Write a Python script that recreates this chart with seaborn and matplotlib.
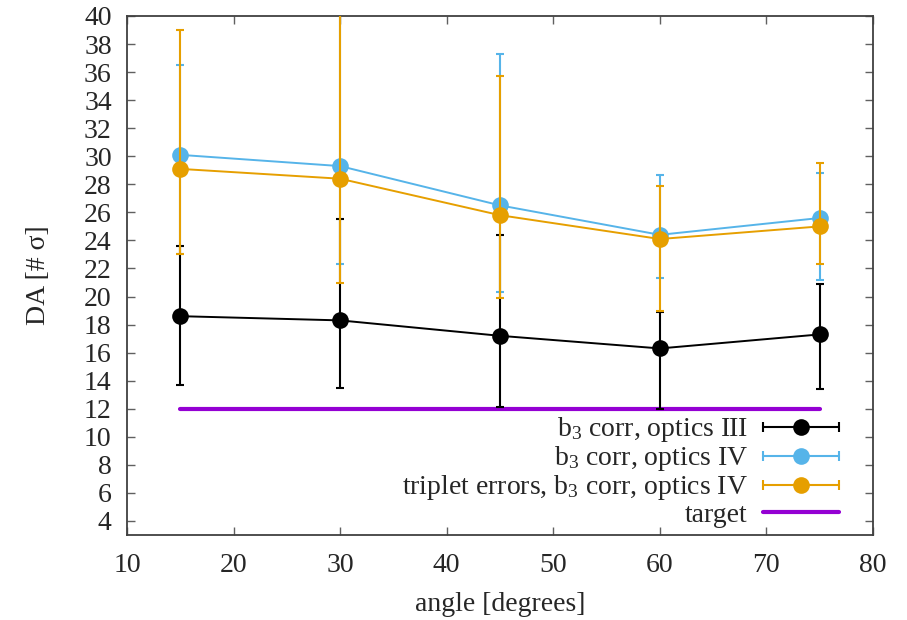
import numpy as np
import pandas as pd
import matplotlib
matplotlib.use("Agg")
import matplotlib.pyplot as plt
import seaborn as sns
from matplotlib.lines import Line2D
from matplotlib.legend_handler import HandlerLine2D, HandlerTuple

# ---- data ----
angles = [15, 30, 45, 60, 75]

da_opt3 = [18.6, 18.3, 17.2, 16.3, 17.3]
da_opt3_lo = [13.7, 13.5, 12.1, 12.0, 13.4]
da_opt3_hi = [23.6, 25.5, 24.4, 18.9, 20.9]

da_opt4 = [30.1, 29.3, 26.5, 24.4, 25.6]
da_opt4_lo = [23.0, 22.3, 20.3, 21.3, 21.2]
da_opt4_hi = [36.5, 42.0, 37.3, 28.7, 28.8]

da_trip = [29.1, 28.4, 25.8, 24.1, 25.0]
da_trip_lo = [23.0, 21.0, 19.9, 19.0, 22.3]
da_trip_hi = [39.0, 45.0, 35.7, 27.9, 29.5]

target_x = [15, 75]
target_y = [12, 12]

series_labels = ["b$_3$ corr, optics III",
                 "b$_3$ corr, optics IV",
                 "triplet errors, b$_3$ corr, optics IV"]
target_label = "target"

x_ticks = list(range(10, 81, 10))
y_ticks = list(range(4, 41, 2))

colors = ["#000000", "#56B4E9", "#E69F00"]
target_color = "#9400D3"

FS = 20

# ---- style ----
sns.set_style("ticks")
plt.rcParams["font.family"] = ["Liberation Serif", "DejaVu Serif"]
plt.rcParams["mathtext.fontset"] = "custom"
plt.rcParams["mathtext.rm"] = "Liberation Serif"
plt.rcParams["mathtext.it"] = "Liberation Serif:italic"

fig = plt.figure(figsize=(9.07, 6.2), dpi=100)
ax = fig.add_axes([127 / 907, 1 - 535 / 620, (873 - 127) / 907, (535 - 16) / 620])

series = [
    (da_opt3, da_opt3_lo, da_opt3_hi),
    (da_opt4, da_opt4_lo, da_opt4_hi),
    (da_trip, da_trip_lo, da_trip_hi),
]

for i, ((y, lo, hi), col, lab) in enumerate(zip(series, colors, series_labels)):
    y = np.array(y)
    yerr = np.vstack([y - np.array(lo), np.array(hi) - y])
    z = 3 + i
    ax.errorbar(angles, y, yerr=yerr, fmt="none", ecolor=col, elinewidth=1.5,
                capsize=3, capthick=1.5, zorder=z)
    df = pd.DataFrame({"angle": angles, "DA": y})
    sns.lineplot(data=df, x="angle", y="DA", ax=ax, color=col, marker="o",
                 markersize=12, markeredgewidth=0, linewidth=1.4, zorder=z,
                 legend=False)

sns.lineplot(x=target_x, y=target_y, ax=ax, color=target_color, linewidth=3,
             zorder=2.5, legend=False)

# legend proxies
handles = []
hmap = {}
for col in colors:
    capline = Line2D([], [], color=col, linewidth=1.5, marker="|",
                     markersize=7, markeredgewidth=1.5)
    dot = Line2D([], [], color=col, linestyle="none", marker="o",
                 markersize=12, markeredgewidth=0)
    hmap[capline] = HandlerLine2D(numpoints=2, marker_pad=0)
    hmap[dot] = HandlerLine2D(numpoints=1)
    handles.append((capline, dot))
th = Line2D([], [], color=target_color, linewidth=3)
handles.append(th)
hmap[tuple] = HandlerTuple(ndivide=1, pad=0)

leg = ax.legend(handles=handles, labels=series_labels + [target_label],
                loc="lower right", bbox_to_anchor=(0.955, 0.014),
                markerfirst=False, frameon=False, fontsize=FS,
                handlelength=2.75, handletextpad=0.55, labelspacing=0.0,
                borderpad=0, borderaxespad=0, handler_map=hmap)

ax.set_xlim(10, 80)
ax.set_ylim(3, 40)
ax.set_xticks(x_ticks)
ax.set_yticks(y_ticks)
ax.tick_params(direction="in", length=6, width=1, color="#606060",
               top=True, right=True, labelsize=FS, pad=11)
ax.tick_params(axis="x", pad=13)
ax.set_xlabel("angle [degrees]", fontsize=FS, labelpad=10)
ax.set_ylabel("DA [# σ]", fontsize=FS, labelpad=24)
for s in ax.spines.values():
    s.set_color("#404040")
    s.set_linewidth(1.3)

fig.savefig("out.png", dpi=100)
